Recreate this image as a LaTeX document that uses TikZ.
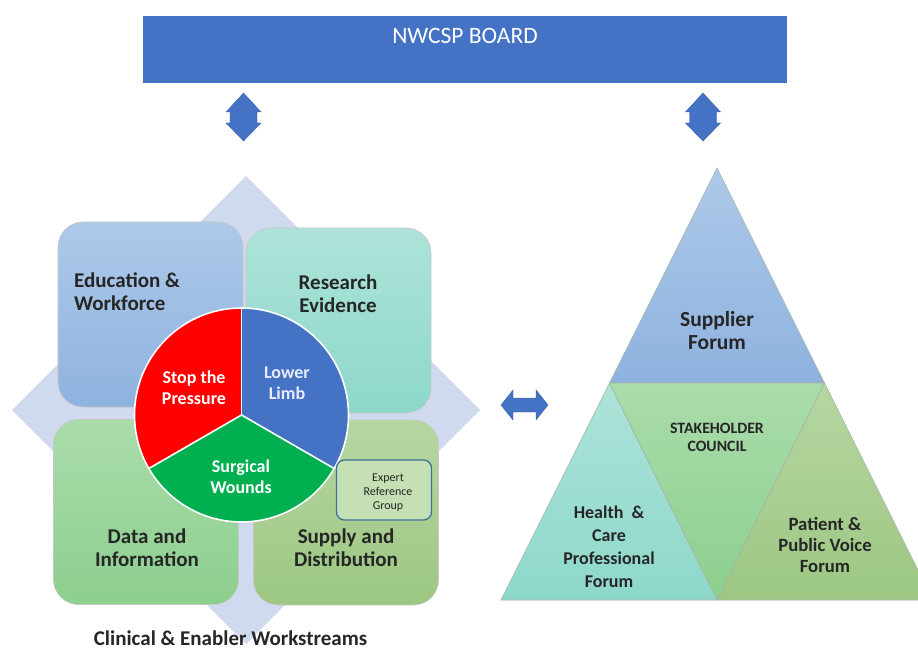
\documentclass[tikz,border=0pt]{standalone}
\usepackage{fontspec}
\setmainfont{Carlito}
\definecolor{boardblue}{HTML}{4472C4}
\definecolor{diamondc}{HTML}{CFDAEE}
\definecolor{eduT}{HTML}{AEC9E9}
\definecolor{eduB}{HTML}{8EB2DF}
\definecolor{resT}{HTML}{ADE3D9}
\definecolor{resB}{HTML}{8DD8CA}
\definecolor{datT}{HTML}{AADCAB}
\definecolor{datB}{HTML}{8CCF8E}
\definecolor{supT}{HTML}{B6D6A2}
\definecolor{supB}{HTML}{9CC782}
\definecolor{pieRed}{HTML}{FF0000}
\definecolor{pieBlue}{HTML}{4472C4}
\definecolor{pieGreen}{HTML}{00B050}
\definecolor{expFill}{HTML}{C5E0B4}
\definecolor{expEdge}{HTML}{41719C}
\definecolor{edgeGray}{HTML}{A6B4A8}
\tikzset{
  board/.style={rectangle, fill=boardblue, inner sep=0pt},
  boardtxt/.style={text=white, font=\fontsize{23.5}{26}\selectfont, inner sep=0pt},
  bigarrow/.style={fill=boardblue, draw=boardblue!85!black, line width=0.4pt},
  wsbox/.style={rectangle, rounded corners=25pt, minimum width=185pt, minimum height=185pt,
     draw=black!22, line width=0.6pt, inner sep=0pt},
  wslbl/.style={font=\bfseries\fontsize{21}{23}\selectfont, text=black!85, inner sep=0pt},
  pielbl/.style={font=\bfseries\fontsize{18}{21}\selectfont, text=white, align=center, inner sep=0pt},
  explbl/.style={font=\fontsize{12}{14}\selectfont, text=black!85, align=center, inner sep=0pt},
  trilbl/.style={font=\bfseries\fontsize{18}{23}\selectfont, text=black!85, align=center, inner sep=0pt},
  tri/.style={draw=edgeGray, line width=0.6pt}
}
\begin{document}
\begin{tikzpicture}[x=1pt,y=-1pt]
\useasboundingbox (0,0) rectangle (918,652);
\clip (0,0) rectangle (918,652);

% board
\node[board, anchor=north west, minimum width=644pt, minimum height=67pt] (board) at (143,16) {};
\node[boardtxt] (boardlbl) at (465,36) {NWCSP BOARD};

% vertical double arrows
\coordinate (varrL) at (243.5,117);
\coordinate (varrR) at (703,117);
\foreach \c in {varrL,varrR}{
  \path[bigarrow] (\c) ++(0,-24) -- ++(17.5,19) -- ++(-4,0) -- ++(0,11) -- ++(4,0)
     -- ++(-17.5,18) -- ++(-17.5,-18) -- ++(4,0) -- ++(0,-11) -- ++(-4,0) -- cycle;
}
% horizontal double arrow
\coordinate (harr) at (524.5,405);
\path[bigarrow] (harr) ++(-23.5,0) -- ++(12,-15) -- ++(0,8) -- ++(23,0) -- ++(0,-8)
   -- ++(12,15) -- ++(-12,15) -- ++(0,-8) -- ++(-23,0) -- ++(0,8) -- cycle;

% diamond background
\coordinate (dc) at (246,410);
\fill[diamondc] (dc) ++(0,-234) -- ++(234,234) -- ++(-234,234) -- ++(-234,-234) -- cycle;

% workstream boxes
\node[wsbox, top color=eduT, bottom color=eduB] (edu) at (150.5,314.5) {};
\node[wsbox, top color=resT, bottom color=resB] (res) at (338.5,320.5) {};
\node[wsbox, top color=datT, bottom color=datB] (dat) at (146,512) {};
\node[wsbox, top color=supT, bottom color=supB] (sup) at (346,512.5) {};

\node[wslbl, align=left, anchor=west] (edulbl) at (74,292) {Education \&\\Workforce};
\node[wslbl, align=center] (reslbl) at (338,294) {Research\\Evidence};
\node[wslbl, align=center] (datlbl) at (147,548) {Data and\\Information};
\node[wslbl, align=center] (suplbl) at (346,548) {Supply and\\Distribution};

% pie
\node[circle, minimum size=214pt, inner sep=0pt] (pie) at (241.5,415) {};
\fill[pieRed] (pie.center) -- ++(270:107) arc[start angle=270, end angle=150, radius=107] -- cycle;
\fill[pieBlue] (pie.center) -- ++(270:107) arc[start angle=270, end angle=390, radius=107] -- cycle;
\fill[pieGreen] (pie.center) -- ++(30:107) arc[start angle=30, end angle=150, radius=107] -- cycle;
\draw[white, line width=1.6pt] (pie.center) circle[radius=107];
\draw[white, line width=1.6pt] (pie.center) -- ++(270:107);
\draw[white, line width=1.6pt] (pie.center) -- ++(30:107);
\draw[white, line width=1.6pt] (pie.center) -- ++(150:107);

\node[pielbl] (stoplbl) at (194,387.5) {Stop the\\Pressure};
\node[pielbl, text=white!92!blue] (lowlbl) at (287,383) {Lower\\Limb};
\node[pielbl] (surglbl) at (241,476.5) {Surgical\\Wounds};

% expert reference group
\node[rectangle, rounded corners=8pt, fill=expFill, draw=expEdge, line width=1.3pt,
      minimum width=95pt, minimum height=60pt, inner sep=0pt] (exp) at (384,490) {};
\node[explbl] (explbl) at (388,493) {Expert\\Reference\\Group};

\node[font=\bfseries\fontsize{21}{23}\selectfont, text=black!85, inner sep=0pt, anchor=base] (clinlbl) at (230.5,645.5) {Clinical \& Enabler Workstreams};

% pyramid
\coordinate (apex) at (717,168);
\coordinate (ml) at (609.5,383);
\coordinate (mr) at (824.5,383);
\coordinate (bl) at (501,600);
\coordinate (bm) at (717,600);
\coordinate (br) at (933,600);
\path[tri, top color=eduT, bottom color=eduB] (apex) -- (mr) -- (ml) -- cycle;
\path[tri, top color=resT, bottom color=resB] (ml) -- (bm) -- (bl) -- cycle;
\path[tri, top color=datT, bottom color=datB] (ml) -- (mr) -- (bm) -- cycle;
\path[tri, top color=supT, bottom color=supB] (mr) -- (br) -- (bm) -- cycle;

\node[trilbl, font=\bfseries\fontsize{21.5}{23}\selectfont] (suplrlbl) at (717,330.5) {Supplier\\Forum};
\node[trilbl, font=\bfseries\fontsize{15.8}{18}\selectfont] (stakelbl) at (717,437) {STAKEHOLDER\\COUNCIL};
\node[trilbl] (hcplbl) at (609,546.5) {Health~~\&\\Care\\Professional\\Forum};
\node[trilbl, font=\bfseries\fontsize{18.7}{21}\selectfont] (pplbl) at (825,545) {Patient \&\\Public Voice\\Forum};
\end{tikzpicture}
\end{document}
